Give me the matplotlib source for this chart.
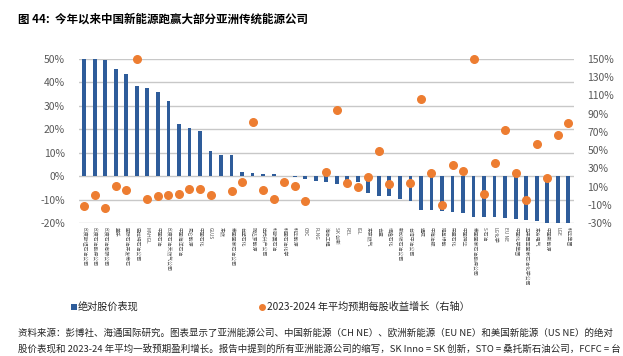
import matplotlib
matplotlib.use("Agg")
import matplotlib.pyplot as plt
import numpy as np
from matplotlib.patches import Rectangle
from matplotlib.lines import Line2D

plt.rcParams['font.family'] = ['Noto Sans CJK SC', 'DejaVu Sans']

companies = ["印度斯坦石油公司", "印度石油勘探公司", "印度石油有限公司", "盖乐", "国际石油开发帝石",
             "巴拉特石油公司", "MAHGL", "中国石油", "印度石油天然气公司", "中国海洋石油",
             "昆仑能源", "中国石化", "GUJS", "东燃", "泰国国家石油公司",
             "台塑石化", "阿达罗能源", "出光兴产公司", "科斯莫石油", "韩国石油化学",
             "韩华能源", "CBC", "PLNG", "海油工程", "SK 创新",
             "REL", "IGL", "东京燃气", "合盛", "恒逸石化",
             "新加坡石油公司", "台湾中油公司", "通威", "中海油服", "隆基绿能",
             "荣盛石化", "中国神华", "泰国国家石油勘探公司", "S-石油", "LG化学",
             "EU NE", "中国化学集团", "马来西亚国家石油化学公司", "东方电气", "中国新能源",
             "LGE", "韩华集团"]

stock_perf = [50.0, 50.0, 49.5, 45.7, 43.7, 38.4, 37.8, 35.8, 32.1, 22.2,
              20.6, 19.2, 10.7, 9.2, 9.2, 1.9, 1.3, 0.9, 0.8, 0.1,
              -0.4, -1.1, -2.1, -2.7, -3.4, -1.8, -2.7, -7.0, -8.5, -8.5,
              -9.6, -10.6, -14.3, -14.3, -14.9, -15.3, -15.9, -17.3, -17.3, -17.3,
              -17.8, -18.5, -18.9, -19.3, -20.0, -20.0, -20.0]

eps_growth = [-11.3, 0.8, -13.9, 10.3, 6.3, 150.0, -3.2, -0.7, 0.8, 2.3,
              7.4, 7.8, 0.8, np.nan, 4.8, 15.5, 80.7, 5.9, -3.6, 15.5,
              10.3, -6.0, np.nan, 26.5, 94.3, 14.0, 10.0, 21.0, 48.8, 12.9,
              np.nan, 14.4, 106.4, 24.6, -9.8, 34.2, 27.6, 150.0, 2.3, 35.6,
              71.6, 25.0, -4.7, 56.9, 19.9, 66.1, 79.6]

left_ticks = [-20, -10, 0, 10, 20, 30, 40, 50]
right_ticks = [-30, -10, 10, 30, 50, 70, 90, 110, 130, 150]

title = "图 44:  今年以来中国新能源跑赢大部分亚洲传统能源公司"
legend1 = "绝对股价表现"
legend2 = "2023-2024 年平均预期每股收益增长（右轴）"
note1 = "资料来源：彭博社、海通国际研究。图表显示了亚洲能源公司、中国新能源（CH NE）、欧洲新能源（EU NE）和美国新能源（US NE）的绝对"
note2 = "股价表现和 2023-24 年平均一致预期盈利增长。报告中提到的所有亚洲能源公司的缩写，SK Inno = SK 创新，STO = 桑托斯石油公司，FCFC = 台"

BLUE = "#2E5C9A"
ORANGE = "#ED7D31"
GRID = "#C8C8C8"
TXT = "#595959"

fig = plt.figure(figsize=(6.23, 3.56), dpi=100)
ax = fig.add_axes([79/623, 1-223/356, (573.5-79)/623, (223-59)/356])
x = np.arange(len(companies))

ax.bar(x, stock_perf, width=0.36, color=BLUE, zorder=2)
ax.set_ylim(-20, 50)
ax.set_xlim(-0.5, len(companies)-0.5)
ax.set_yticks(left_ticks)
ax.set_yticklabels([f"{v}%" for v in left_ticks], fontsize=7.5, color=TXT)
ax.yaxis.grid(True, color=GRID, linewidth=1.0, zorder=0)
ax.set_axisbelow(True)
for s in ax.spines.values():
    s.set_visible(False)
ax.tick_params(axis='y', length=0, pad=10)
ax.set_xticks(x)
ax.set_xticklabels(companies, rotation=-90, fontsize=3.5, color="#555555", va='top', ha='center')
ax.tick_params(axis='x', length=0, pad=3)

ax2 = ax.twinx()
ax2.scatter(x, eps_growth, s=30, color=ORANGE, zorder=5, clip_on=False)
ax2.set_ylim(-30, 150)
ax2.set_yticks(right_ticks)
ax2.set_yticklabels([f"{v}%" for v in right_ticks], fontsize=7.5, color=TXT)
ax2.tick_params(axis='y', length=0, pad=10)
for s in ax2.spines.values():
    s.set_visible(False)

fig.text(18/623, 1-19/356, title, fontsize=8.3, fontweight='bold', color="#000000", va='center', ha='left')

# legend
fig.patches.append(Rectangle((71/623, 1-310/356), 6/623, 6/356, transform=fig.transFigure,
                             facecolor=BLUE, edgecolor='none'))
fig.text(78/623, 1-307/356, legend1, fontsize=7.3, color="#262626", va='center', ha='left')
fig.lines.append(Line2D([262/623], [1-307/356], transform=fig.transFigure, marker='o',
                        markersize=4, color=ORANGE, linestyle='none'))
fig.text(267/623, 1-307/356, legend2, fontsize=7.3, color="#262626", va='center', ha='left')

fig.text(18/623, 1-333/356, note1, fontsize=6.8, color="#262626", va='center', ha='left')
fig.text(18/623, 1-349/356, note2, fontsize=6.8, color="#262626", va='center', ha='left')

fig.savefig("out.png", dpi=100)
